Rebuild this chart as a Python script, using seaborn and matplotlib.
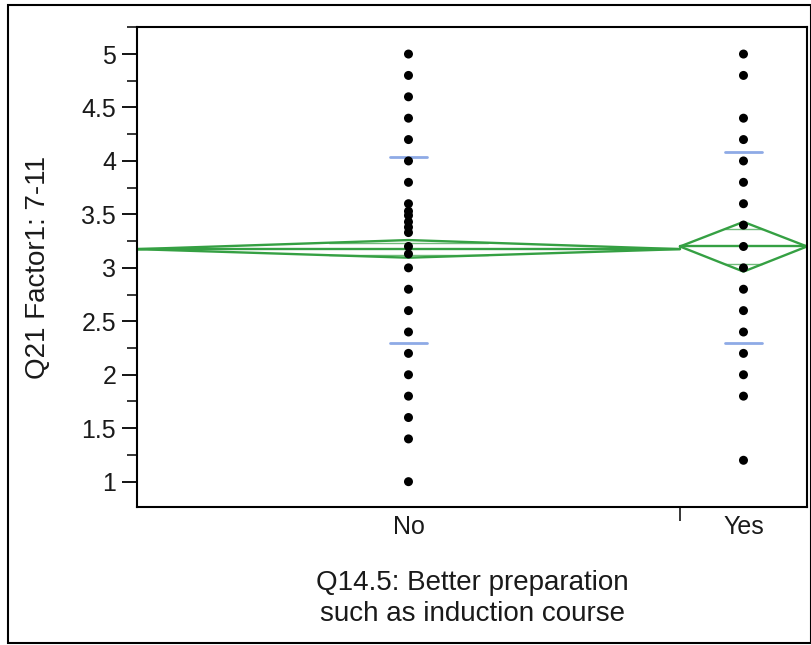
#!/usr/bin/env python3

import numpy as np
import pandas as pd
import seaborn as sns
import matplotlib
matplotlib.use("Agg")
import matplotlib.pyplot as plt
from matplotlib.patches import Rectangle
from matplotlib.ticker import MultipleLocator

GREEN = "#35a043"
BLUE = "#8eaae6"

# groups and their (estimated) sizes, which set the group widths on the x axis
groups = ["No", "Yes"]
group_n = [312, 73]

no_values = [5.0, 4.8, 4.6, 4.4, 4.2, 4.0, 3.8, 3.6, 3.53, 3.49, 3.43, 3.38,
             3.33, 3.2, 3.13, 3.0, 2.8, 2.6, 2.4, 2.2, 2.0, 1.8, 1.6, 1.4, 1.0]
yes_values = [5.0, 4.8, 4.4, 4.2, 4.0, 3.8, 3.6, 3.4, 3.2, 3.0, 2.8, 2.6,
              2.4, 2.2, 2.0, 1.8, 1.2]

# group summaries (means diamonds and std dev lines)
group_mean = [3.175, 3.20]
ci_low = [3.095, 2.965]
ci_high = [3.26, 3.43]
sd_low = [2.297, 2.30]
sd_high = [4.036, 4.087]


def main():
    sns.set_style("ticks")
    plt.rcParams["font.family"] = ["Liberation Sans", "DejaVu Sans"]
    plt.rcParams["text.color"] = "#1a1a1a"
    plt.rcParams["axes.labelcolor"] = "#1a1a1a"
    plt.rcParams["ytick.labelcolor"] = "#1a1a1a"
    plt.rcParams["xtick.labelcolor"] = "#1a1a1a"

    edges = np.concatenate([[0], np.cumsum(group_n)])
    centers = (edges[:-1] + edges[1:]) / 2

    df = pd.DataFrame({
        "x": [centers[0]] * len(no_values) + [centers[1]] * len(yes_values),
        "y": no_values + yes_values,
    })

    fig = plt.figure(figsize=(8.12, 6.45), dpi=100)
    ax = fig.add_axes([137 / 812, 1 - 507 / 645, 670 / 812, 480 / 645])

    # means diamonds
    for i in range(len(groups)):
        x0, x1, xc = edges[i], edges[i + 1], centers[i]
        m, lo, hi = group_mean[i], ci_low[i], ci_high[i]
        ax.plot([x0, xc, x1, xc, x0], [m, hi, m, lo, m], color=GREEN, lw=1.7)
        ax.plot([x0, x1], [m, m], color=GREEN, lw=1.7)
        # overlap marks
        half = (x1 - x0) / 2
        for k in (1, -1):
            ym = m + k * (hi - m if k > 0 else m - lo) / np.sqrt(2)
            w = half * (1 - 1 / np.sqrt(2))
            ax.plot([xc - w, xc + w], [ym, ym], color=GREEN, lw=1.0, alpha=0.7)
        # std dev lines
        w_sd = (x1 - x0) * 0.034 if i == 0 else (x1 - x0) * 0.145
        for yv in (sd_low[i], sd_high[i]):
            ax.plot([xc - w_sd, xc + w_sd], [yv, yv], color=BLUE, lw=2.0)

    sns.scatterplot(data=df, x="x", y="y", color="black", s=42,
                    edgecolor="none", ax=ax, zorder=5)

    ax.set_xlim(edges[0], edges[-1])
    ax.set_ylim(0.763, 5.253)
    ax.yaxis.set_major_locator(MultipleLocator(0.5))
    ax.yaxis.set_minor_locator(MultipleLocator(0.25))
    ax.set_yticklabels([f"{v:g}" for v in ax.get_yticks()])
    ax.tick_params(axis="y", which="major", length=11, width=1.3,
                   labelsize=18, color="black", pad=4)
    ax.tick_params(axis="y", which="minor", length=7, width=1.3)

    # group labels at centres, tick marks at group boundaries
    ax.set_xticks(edges[1:-1])
    ax.set_xticklabels([""] * (len(edges) - 2))
    ax.set_xticks(centers, minor=True)
    ax.set_xticklabels(groups, minor=True)
    ax.tick_params(axis="x", which="major", length=10, width=1.3)
    ax.tick_params(axis="x", which="minor", length=0, labelsize=18, pad=6)

    for sp in ax.spines.values():
        sp.set_linewidth(1.5)
        sp.set_color("black")

    ax.set_ylabel("Q21 Factor1: 7-11", fontsize=20, labelpad=22)
    ax.set_xlabel("Q14.5: Better preparation\nsuch as induction course",
                  fontsize=20, labelpad=22, linespacing=1.25)

    fig.patches.append(Rectangle((8 / 812, 2 / 645), 803 / 812, 638 / 645,
                                 transform=fig.transFigure, fill=False,
                                 edgecolor="black", lw=1.5))

    plt.savefig("out.png", dpi=100)


if __name__ == "__main__":
    main()
